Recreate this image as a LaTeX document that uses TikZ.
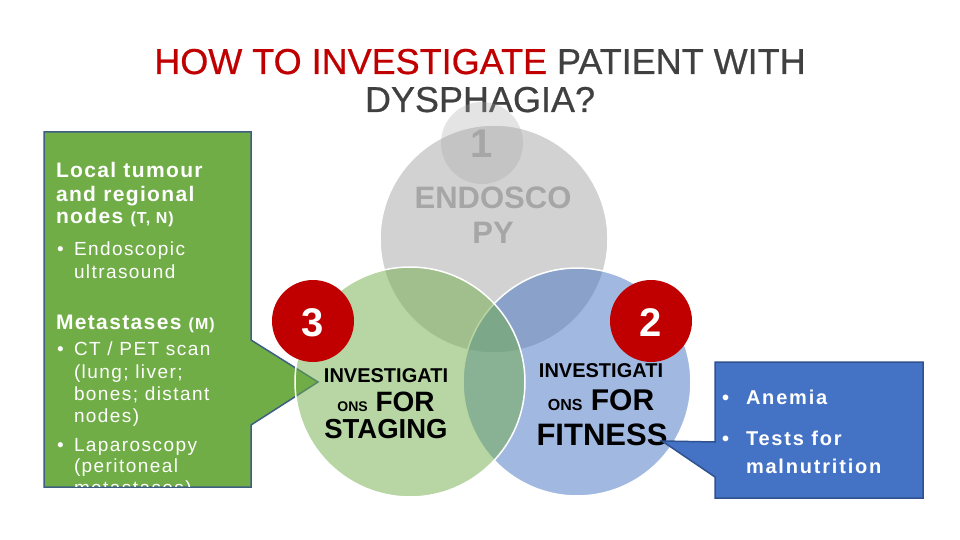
\documentclass[tikz,border=0pt]{standalone}
\usepackage{fontspec}
\setmainfont{Liberation Sans}
\newfontfamily\lsfont[LetterSpace=6.5]{Liberation Sans}
\newfontfamily\lsregfont[LetterSpace=7.5]{Liberation Sans}
\newfontfamily\lsbluefont[LetterSpace=9]{Liberation Sans}
\newfontfamily\ttlfont[FakeBold=0.6]{Liberation Sans}
\definecolor{ttlred}{HTML}{C00000}
\definecolor{ttlgray}{HTML}{404040}
\definecolor{vgray}{HTML}{A5A5A5}
\definecolor{vgreen}{HTML}{70AD47}
\definecolor{vblue}{HTML}{4472C4}
\definecolor{numred}{HTML}{C00000}
\definecolor{numgray}{HTML}{A6A6A6}
\definecolor{greenborder}{HTML}{3E5F82}
\definecolor{blueborder}{HTML}{2F528F}
\begin{document}
\begin{tikzpicture}[x=1pt,y=-1pt,
  txt/.style={inner sep=0pt, outer sep=0pt},
  gtitle/.style={txt, anchor=base, font=\ttlfont\fontsize{36}{36}\selectfont, text=ttlgray},
  gbold/.style={txt, anchor=base west, text=white, font=\lsfont\bfseries\fontsize{21}{21}\selectfont},
  greg/.style={txt, anchor=base west, text=white, font=\lsregfont\fontsize{19}{19}\selectfont},
  bbold/.style={txt, anchor=base west, text=white, font=\lsbluefont\bfseries\fontsize{20}{20}\selectfont},
  ctext/.style={txt, anchor=base, text=black, font=\bfseries},
  venn/.style={circle, fill opacity=0.5, draw=white, line width=1.5pt, inner sep=0pt},
  numcirc/.style={circle, fill=numred, inner sep=0pt, minimum size=82pt},
  numtxt/.style={txt, anchor=base, text=white, font=\bfseries\fontsize{40}{40}\selectfont},
  callgreen/.style={fill=vgreen, draw=greenborder, line width=1.5pt, line join=miter},
  callblue/.style={fill=vblue, draw=blueborder, line width=1.5pt, line join=miter}
]
\useasboundingbox (0,0) rectangle (960,540);

% title
\node[gtitle] (title1) at (480,74) {\textcolor{ttlred}{HOW TO INVESTIGATE} PATIENT WITH};
\node[gtitle] (title2) at (480,112) {DYSPHAGIA?};

% green callout
\path[callgreen] (44,132) -- (251,132) -- (251,340) -- (318,382) -- (251,425)
  -- (251,487) -- (44,487) -- cycle;
\begin{scope}
\clip (45,133) rectangle (250,486);
\node[gbold] (g1) at (56,178) {Local tumour};
\node[gbold] (g2) at (56,201) {and regional};
\node[gbold] (g3) at (56,223) {nodes {\fontsize{16}{16}\selectfont(T, N)}};
\node[greg] (gb1) at (57,255) {•};
\node[greg] (g4) at (74,255) {Endoscopic};
\node[greg] (g5) at (74,278) {ultrasound};
\node[gbold] (g6) at (56,329) {Metastases {\fontsize{16}{16}\selectfont(M)}};
\node[greg] (gb2) at (57,355) {•};
\node[greg] (g7) at (74,355) {CT / PET scan};
\node[greg] (g8) at (74,378) {(lung; liver;};
\node[greg] (g9) at (74,400) {bones; distant};
\node[greg] (g10) at (74,422) {nodes)};
\node[greg] (gb3) at (57,451) {•};
\node[greg] (g11) at (74,451) {Laparoscopy};
\node[greg] (g12) at (74,472) {(peritoneal};
\node[greg] (g13) at (74,494) {metastases)};
\end{scope}

% venn circles
\node[venn, fill=vgray, minimum size=228pt] (cgray) at (494,239) {};
\node[circle, fill=vgray, fill opacity=0.3, inner sep=0pt, minimum size=82pt] (cone) at (482,143) {};
\node[venn, fill=vblue, minimum size=228pt] (cblue) at (577,382) {};
\node[venn, fill=vgreen, minimum size=230pt] (cgreen) at (410,382) {};

% number circles
\node[numcirc] (n3) at (313,321) {};
\node[numcirc] (n2) at (651,321) {};
\node[numtxt] (t3) at (313,336) {3};
\node[numtxt] (t2) at (651,336) {2};
\node[txt, anchor=base, text=numgray, font=\bfseries\fontsize{40}{40}\selectfont] (t1) at (482,158) {1};

% circle texts
\node[txt, anchor=base, text=numgray, font=\bfseries\fontsize{31}{31}\selectfont] (e1) at (493,208) {ENDOSCO};
\node[txt, anchor=base, text=numgray, font=\bfseries\fontsize{31}{31}\selectfont] (e2) at (493,243) {PY};

\node[ctext, font=\bfseries\fontsize{20}{20}\selectfont] (s1) at (386,382) {INVESTIGATI};
\node[ctext, font=\bfseries\fontsize{28}{28}\selectfont] (s2) at (386,411) {{\fontsize{14}{14}\selectfont ONS} FOR};
\node[ctext, font=\bfseries\fontsize{27.5}{28}\selectfont] (s3) at (386,438) {STAGING};

\node[ctext, font=\bfseries\fontsize{20}{20}\selectfont] (f1) at (601,377) {INVESTIGATI};
\node[ctext, font=\bfseries\fontsize{30}{30}\selectfont] (f2) at (601,410) {{\fontsize{16}{16}\selectfont ONS} FOR};
\node[ctext, font=\bfseries\fontsize{31}{31}\selectfont] (f3) at (602,445) {FITNESS};

% blue callout
\path[callblue] (715,362) -- (923,362) -- (923,498) -- (715,498) -- (715,477)
  -- (662,441) -- (715,442) -- cycle;
\node[bbold] (bb1) at (722,404) {•};
\node[bbold] (b1) at (746,404) {Anemia};
\node[bbold] (bb2) at (722,445) {•};
\node[bbold] (b2) at (746,445) {Tests for};
\node[bbold] (b3) at (746,473) {malnutrition};
\end{tikzpicture}
\end{document}
